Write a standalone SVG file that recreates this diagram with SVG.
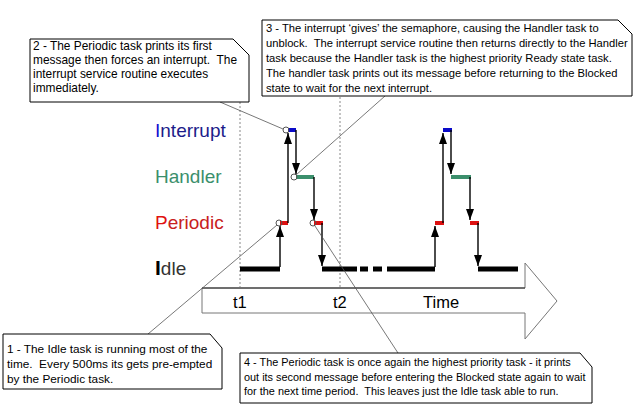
<svg xmlns="http://www.w3.org/2000/svg" width="639" height="416" viewBox="0 0 639 416">
<style>
.note{fill:#fff;stroke:#000;stroke-width:1}
.nt{font-family:"Liberation Sans",Arial,sans-serif;fill:#000}
.n1{font-size:11.8px}.n2{font-size:11.9px}.n3{font-size:11.2px}.n4{font-size:10.9px}
.lbl{font-family:"Liberation Sans",Arial,sans-serif;font-size:19px}
.tl{font-family:"Liberation Sans",Arial,sans-serif;font-size:16.5px;fill:#000}
.call{stroke:#555;stroke-width:0.8;fill:none}
.dot{stroke:#888;stroke-width:1;stroke-dasharray:2 2;fill:none}
.arr{stroke:#000;stroke-width:1.4;fill:none;marker-end:url(#ah)}
.circ{fill:none;stroke:#555;stroke-width:1}
.int{fill:#0a0ac8}.han{fill:#3b8f6c}.per{fill:#dd1010}.idl{fill:#000}
</style>
<defs>
<marker id="ah" viewBox="0 0 11 8" refX="11" refY="4" markerWidth="11" markerHeight="8" markerUnits="userSpaceOnUse" orient="auto">
<path d="M0,0 L11,4 L0,8 Z" fill="#000"/>
</marker>
</defs>
<rect width="639" height="416" fill="#fff"/>

<g id="time-axis">
<polygon points="202,288 525,288 525,263 557,301 525,339 525,313 202,313" fill="#fff" stroke="#777" stroke-width="1"/>
<line x1="202" y1="288" x2="525" y2="288" stroke="#222" stroke-width="1"/>
<text class="tl" x="233" y="308">t1</text>
<text class="tl" x="333" y="308">t2</text>
<text class="tl" x="423" y="308">Time</text>
</g>

<g id="guides">
<line class="dot" x1="240" y1="102" x2="240" y2="287"/>
<line class="dot" x1="340" y1="97" x2="340" y2="287"/>
</g>

<g id="labels">
<text class="lbl" x="155" y="137"><tspan fill="#1010d0">I</tspan><tspan fill="#1c1c8a">nterrupt</tspan></text>
<text class="lbl" x="155" y="183" fill="#3b8f6c">Handler</text>
<text class="lbl" x="155" y="229"><tspan fill="#e01010">P</tspan><tspan fill="#c82020">eriodic</tspan></text>
<text class="lbl" x="155" y="275"><tspan fill="#000" font-weight="bold" font-size="21px">I</tspan><tspan fill="#333">dle</tspan></text>
</g>

<g id="task-idle">
<rect class="idl" x="240" y="266.5" width="40" height="5"/>
<rect class="idl" x="322" y="266.5" width="35" height="5"/>
<rect class="idl" x="360" y="266.5" width="8" height="5"/>
<rect class="idl" x="373" y="266.5" width="9" height="5"/>
<rect class="idl" x="387" y="266.5" width="48" height="5"/>
<rect class="idl" x="478" y="266.5" width="40" height="5"/>
</g>
<g id="task-periodic">
<rect class="per" x="280" y="221" width="8" height="4"/>
<rect class="per" x="314" y="221" width="9" height="4"/>
<rect class="per" x="435" y="221" width="9" height="4"/>
<rect class="per" x="470" y="221" width="9" height="4"/>
</g>
<g id="task-handler">
<rect class="han" x="296" y="175" width="18" height="4"/>
<rect class="han" x="451" y="175" width="20" height="4"/>
</g>
<g id="task-interrupt">
<rect class="int" x="288" y="128" width="8" height="4"/>
<rect class="int" x="443" y="128" width="9" height="4"/>
</g>

<g id="connectors">
<line class="arr" x1="280" y1="267" x2="280" y2="226"/>
<line class="arr" x1="288" y1="223" x2="288" y2="133"/>
<line class="arr" x1="296" y1="130" x2="296" y2="174"/>
<line class="arr" x1="314" y1="177" x2="314" y2="220"/>
<line class="arr" x1="322" y1="223" x2="322" y2="266"/>
<line class="arr" x1="435" y1="267" x2="435" y2="226"/>
<line class="arr" x1="443" y1="223" x2="443" y2="133"/>
<line class="arr" x1="451" y1="130" x2="451" y2="174"/>
<line class="arr" x1="470" y1="177" x2="470" y2="220"/>
<line class="arr" x1="478" y1="223" x2="478" y2="266"/>
<line class="call" x1="220" y1="102" x2="283" y2="129"/>
<line class="call" x1="385" y1="96" x2="296" y2="175"/>
<line class="call" x1="148" y1="334" x2="277" y2="225"/>
<line class="call" x1="398" y1="353" x2="315" y2="226"/>
<circle class="circ" cx="279" cy="223" r="3"/>
<circle class="circ" cx="286" cy="130" r="3"/>
<circle class="circ" cx="294" cy="177" r="3"/>
<circle class="circ" cx="313" cy="223" r="3"/>
</g>

<g id="note2">
<path class="note" d="M30,39 H233 L249,55 V102 H30 Z"/>
<text class="nt n2" xml:space="preserve" x="33" y="50">2 - The Periodic task prints its first</text>
<text class="nt n2" xml:space="preserve" x="33" y="64">message then forces an interrupt.  The</text>
<text class="nt n2" xml:space="preserve" x="33" y="78">interrupt service routine executes</text>
<text class="nt n2" xml:space="preserve" x="33" y="92">immediately.</text>
</g>

<g id="note3">
<path class="note" d="M262,20 H618 L632,34 V96 H262 Z"/>
<text class="nt n3" xml:space="preserve" x="266" y="32">3 - The interrupt ‘gives’ the semaphore, causing the Handler task to</text>
<text class="nt n3" xml:space="preserve" x="266" y="47">unblock.  The interrupt service routine then returns directly to the Handler</text>
<text class="nt n3" xml:space="preserve" x="266" y="62">task because the Handler task is the highest priority Ready state task.</text>
<text class="nt n3" xml:space="preserve" x="266" y="77">The handler task prints out its message before returning to the Blocked</text>
<text class="nt n3" xml:space="preserve" x="266" y="92">state to wait for the next interrupt.</text>
</g>

<g id="note1">
<path class="note" d="M3,334 H210 L222,348 V389 H3 Z"/>
<text class="nt n1" xml:space="preserve" x="7" y="353">1 - The Idle task is running most of the</text>
<text class="nt n1" xml:space="preserve" x="7" y="368">time.  Every 500ms its gets pre-empted</text>
<text class="nt n1" xml:space="preserve" x="7" y="383">by the Periodic task.</text>
</g>

<g id="note4">
<path class="note" d="M240,353 H580 L592,367 V403 H240 Z"/>
<text class="nt n4" xml:space="preserve" x="244" y="366">4 - The Periodic task is once again the highest priority task - it prints</text>
<text class="nt n4" xml:space="preserve" x="244" y="381">out its second message before entering the Blocked state again to wait</text>
<text class="nt n4" xml:space="preserve" x="244" y="395">for the next time period.  This leaves just the Idle task able to run.</text>
</g>
</svg>
